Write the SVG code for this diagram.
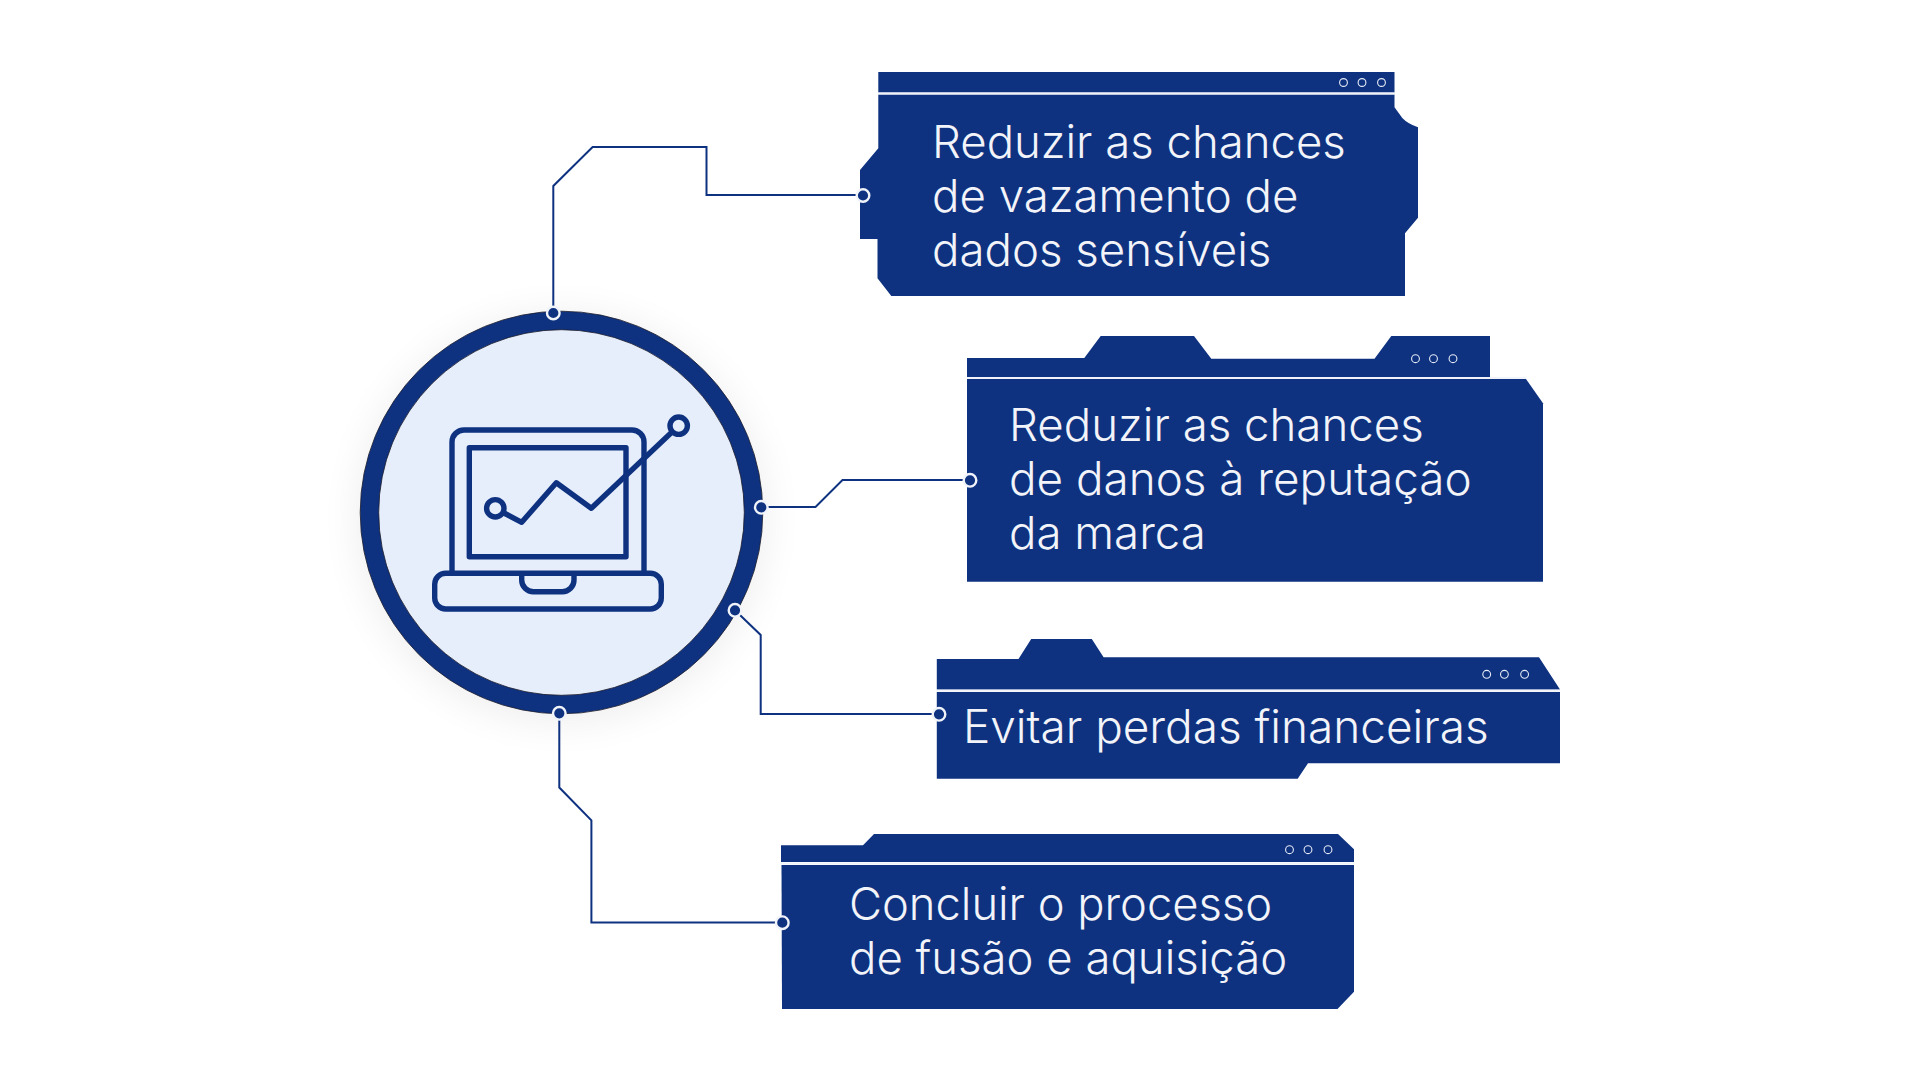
<svg xmlns="http://www.w3.org/2000/svg" width="1920" height="1080" viewBox="0 0 1920 1080">
<style>
.card{fill:#0e3280}
.sep{stroke:#f0f3f9;stroke-width:2;fill:none}
.dot{fill:none;stroke:#e6ecf6;stroke-width:1.1}
.t{font-family:Inter,"Liberation Sans",sans-serif;font-size:45.6px;font-weight:300;fill:#f2f4f9}
.con{fill:none;stroke:#0e3280;stroke-width:2}
.pin{fill:#0e3280;stroke:#f0f3f9;stroke-width:2.4}
.ic{fill:none;stroke:#0e3280;stroke-width:5.4;stroke-linejoin:round}
</style>
<defs><filter id="sh" x="-30%" y="-30%" width="160%" height="160%"><feGaussianBlur stdDeviation="20"/></filter></defs>
<rect width="1920" height="1080" fill="#fff"/>
<g id="hub">
<circle cx="561.500" cy="518" r="203" fill="#000" opacity=".07" filter="url(#sh)"/>
<circle cx="561.500" cy="512.500" r="192" fill="#e6eefb" stroke="#0e3280" stroke-width="18.500"/>
<circle cx="561.500" cy="512.500" r="201.300" fill="none" stroke="#1a1a2a" stroke-width=".8"/>
<circle cx="561.500" cy="512.500" r="182.800" fill="none" stroke="#1a1a2a" stroke-width=".8"/>
<path class="ic" d="M452 573V442a12 12 0 0 1 12-12H632a12 12 0 0 1 12 12V573"/>
<rect class="ic" x="469.300" y="447.700" width="156.700" height="109"/>
<rect class="ic" x="434.700" y="573.300" width="226.600" height="35.700" rx="11"/>
<path class="ic" d="M521.700 575V580a11.700 11.700 0 0 0 11.700 11.700H562.300a11.700 11.700 0 0 0 11.700-11.700V575"/>
<circle class="ic" cx="495.300" cy="508.300" r="8.700"/>
<circle class="ic" cx="678.700" cy="425.700" r="8.700"/>
<path class="ic" d="M503 512.500L521.700 522.300L556.300 482.700L591.300 508.300L672 432"/>
</g>
<g id="card-1">
<path class="card" d="M878.300 72H1394.500V92.500H878.300Z"/>
<path class="card" d="M878.300 94.500H1394.500V107.300L1402.500 118.300Q1408 124 1418 127.300V217.700L1405 233.300V296H891.300L877.500 278.300V239H860V170L878.300 148.300Z"/>
<path class="sep" d="M878.300 93.500H1394.500"/>
<circle class="dot" cx="1343.500" cy="82.500" r="3.900"/><circle class="dot" cx="1362" cy="82.500" r="3.900"/><circle class="dot" cx="1381.500" cy="82.500" r="3.900"/>
<text class="t" x="932" y="158" font-size="45.500" style="font-size:45.500px">Reduzir as chances</text>
<text class="t" x="932" y="212">de vazamento de</text>
<text class="t" x="932" y="266">dados sensíveis</text>
</g>
<g id="card-2">
<path class="card" d="M967 358H1084.300L1100.700 336H1194L1211.300 358.700H1374.500L1391.300 336H1490V377H967Z"/>
<path class="card" d="M967 379H1526L1543 403.300V581.700H967Z"/>
<path class="sep" d="M967 378H1526"/>
<circle class="dot" cx="1415.500" cy="358.700" r="3.900"/><circle class="dot" cx="1433.500" cy="358.700" r="3.900"/><circle class="dot" cx="1453" cy="358.700" r="3.900"/>
<text class="t" x="1009" y="441">Reduzir as chances</text>
<text class="t" x="1009" y="495" style="font-size:45.800px">de danos à reputação</text>
<text class="t" x="1009" y="549">da marca</text>
</g>
<g id="card-3">
<path class="card" d="M936.800 659H1018.500L1031.200 639H1091.800L1103.600 657.300H1539L1560 689.500H936.800Z"/>
<path class="card" d="M936.800 692H1560V763.300H1308L1297.700 778.700H936.800Z"/>
<path class="sep" d="M936.800 690.800H1560"/>
<circle class="dot" cx="1486.700" cy="674.300" r="3.900"/><circle class="dot" cx="1504.400" cy="674.300" r="3.900"/><circle class="dot" cx="1524.600" cy="674.300" r="3.900"/>
<text class="t" x="963" y="743" style="font-size:45.900px">Evitar perdas financeiras</text>
</g>
<g id="card-4">
<path class="card" d="M781 845.300H863L874 834H1338L1354 849.300V862H781Z"/>
<path class="card" d="M781.500 865H1354V991.700L1337.500 1009H782Z"/>
<path class="sep" d="M781 863.500H1354"/>
<circle class="dot" cx="1289.500" cy="849.700" r="3.900"/><circle class="dot" cx="1308" cy="849.700" r="3.900"/><circle class="dot" cx="1328" cy="849.700" r="3.900"/>
<text class="t" x="849" y="920" style="font-size:45.300px">Concluir o processo</text>
<text class="t" x="849" y="974" style="font-size:45.500px">de fusão e aquisição</text>
</g>
<g id="connectors">
<path class="con" d="M553.300 313V186L592.600 147H706.500V195H863"/>
<path class="con" d="M761.300 507H815.500L842.500 480H970"/>
<path class="con" d="M735 610.300L760.700 635V714H939.500"/>
<path class="con" d="M559.300 713V787.500L591.400 820.400V922.500H782.500"/>
<circle class="pin" cx="553.300" cy="313" r="6.300"/><circle class="pin" cx="863" cy="195.500" r="6.300"/>
<circle class="pin" cx="761.300" cy="507.300" r="6.300"/><circle class="pin" cx="970" cy="480.300" r="6.300"/>
<circle class="pin" cx="735" cy="610.300" r="6.300"/><circle class="pin" cx="939" cy="714.300" r="6.300"/>
<circle class="pin" cx="559.300" cy="713.300" r="6.300"/><circle class="pin" cx="782.300" cy="922.700" r="6.300"/>
</g>
</svg>
